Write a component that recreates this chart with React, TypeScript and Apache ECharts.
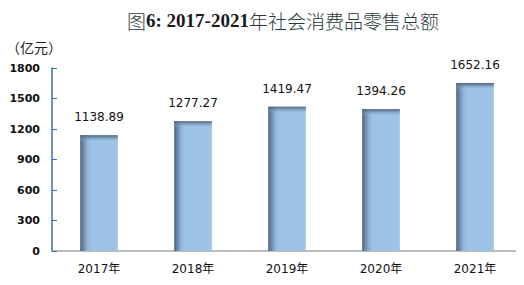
import React, { useEffect, useRef } from "react";
import * as echarts from "echarts";

const categories = ["2017年", "2018年", "2019年", "2020年", "2021年"];
const values = [1138.89, 1277.27, 1419.47, 1394.26, 1652.16];
const titleParts = ["图", "6: 2017-2021", "年社会消费品零售总额"];
const unitLabel = "（亿元）";

export default function App() {
  const ref = useRef<HTMLDivElement>(null);
  useEffect(() => {
    if (!ref.current) return;
    const chart = echarts.init(ref.current, undefined, { renderer: "svg" });
    const cjk = "'Noto Sans CJK SC'";
    chart.setOption({
      animation: false,
      backgroundColor: "#ffffff",
      title: {
        text: `{c|${titleParts[0]}}{l|${titleParts[1]}}{c|${titleParts[2]}}`,
        left: 278,
        textAlign: "center",
        top: 6,
        textStyle: {
          rich: {
            c: { fontFamily: cjk, fontSize: 19, color: "#2b3b3b", fontWeight: 300 },
            l: { fontFamily: "'Liberation Serif'", fontSize: 19, color: "#1a1a1a", fontWeight: "bold" },
          },
        },
      },
      graphic: [
        {
          type: "text",
          left: 6,
          top: 40,
          style: { text: unitLabel, fontFamily: cjk, fontSize: 14, fill: "#222" },
        },
      ],
      grid: { left: 52, right: 2, top: 68, bottom: 34 },
      xAxis: {
        type: "category",
        data: categories,
        axisLine: { lineStyle: { color: "#a6a6a6", width: 1.5 } },
        axisTick: { show: false },
        axisLabel: { fontFamily: "'DejaVu Sans', " + cjk, fontSize: 12, color: "#111", margin: 12 },
      },
      yAxis: {
        type: "value",
        min: 0,
        max: 1800,
        interval: 300,
        axisLine: { show: true, lineStyle: { color: "#3470b0", width: 1.5 } },
        axisTick: { show: true, inside: true, length: 5, lineStyle: { color: "#3470b0" } },
        splitLine: { show: false },
        axisLabel: {
          fontFamily: "'DejaVu Sans'",
          fontSize: 11,
          color: "#111",
          margin: 12,
          fontWeight: "bold",
          formatter: (v: number) => String(v),
        },
      },
      series: [
        {
          type: "bar",
          data: values,
          barWidth: "40%",
          itemStyle: {
            color: new echarts.graphic.LinearGradient(0, 0, 1, 0, [
              { offset: 0, color: "#4d6078" },
              { offset: 0.08, color: "#6d88a6" },
              { offset: 0.2, color: "#93b8dc" },
              { offset: 0.3, color: "#9dc3e6" },
              { offset: 1, color: "#9dc3e6" },
            ]),
          },
          label: {
            show: true,
            position: "top",
            distance: 12,
            fontFamily: "'DejaVu Sans'",
            fontSize: 12,
            color: "#111",
            formatter: (p: any) => p.value.toFixed(2),
          },
        },
        {
          type: "custom",
          z: 5,
          silent: true,
          data: values.map((v, i) => [i, v]),
          renderItem: (params: any, api: any) => {
            const pt = api.coord([api.value(0), api.value(1)]);
            const w = api.size([1, 0])[0] * 0.4;
            return {
              type: "rect",
              shape: { x: pt[0] - w / 2, y: pt[1], width: w, height: 7 },
              style: {
                fill: new echarts.graphic.LinearGradient(0, 0, 0, 1, [
                  { offset: 0, color: "rgba(72,90,112,0.95)" },
                  { offset: 1, color: "rgba(157,195,230,0)" },
                ]),
              },
            };
          },
        },
      ],
    });
    return () => chart.dispose();
  }, []);
  return <div ref={ref} style={{ width: 524, height: 285, margin: -8 }} />;
}
